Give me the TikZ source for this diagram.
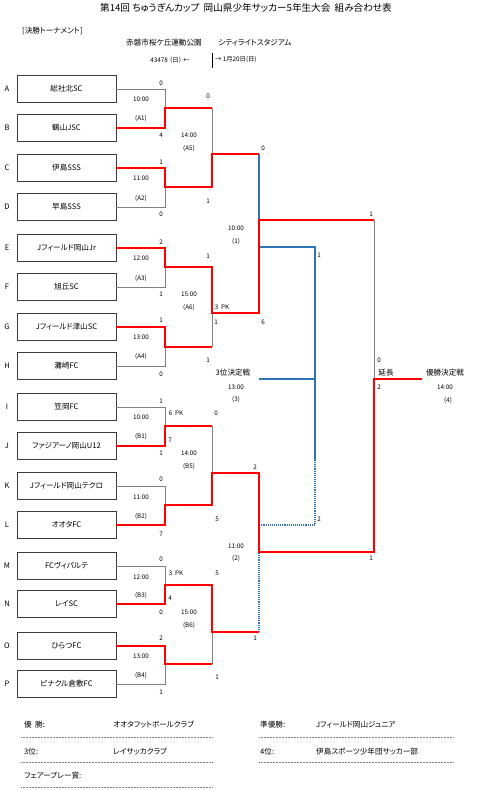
\documentclass[tikz,border=0pt]{standalone}
\usepackage{fontspec}
\setmainfont{Noto Sans CJK JP}[RawFeature=+palt]
\definecolor{winred}{RGB}{255,0,0}
\definecolor{thirdblue}{RGB}{46,117,182}
\definecolor{losegray}{RGB}{128,128,128}
\definecolor{boxgray}{RGB}{60,60,60}
\begin{document}
\begin{tikzpicture}[x=1pt,y=-1pt,
  team/.style={draw=boxgray, line width=0.8pt, minimum width=99pt, minimum height=27pt, inner sep=0pt, font=\fontsize{7.6}{9}\selectfont},
  teamletter/.style={font=\fontsize{7.5}{9}\selectfont, inner sep=0pt},
  sm/.style={font=\fontsize{6.3}{7}\selectfont, inner sep=0pt},
  md/.style={font=\fontsize{7.6}{9}\selectfont, inner sep=0pt},
  ttl/.style={font=\fontsize{9.6}{11}\selectfont, inner sep=0pt},
  lose/.style={draw=losegray, line width=0.9pt},
  win/.style={draw=winred, line width=1.4pt},
  third/.style={draw=thirdblue, line width=1.1pt},
  thirddot/.style={draw=thirdblue, line width=1.1pt, densely dotted},
  rule/.style={draw=gray, line width=0.5pt, densely dotted},
  sepline/.style={draw=black, line width=0.6pt}
]
\path[use as bounding box] (0,0) rectangle (488,791);

% header
\node[ttl] (title) at (246,8) {第14回 ちゅうぎんカップ\ \ 岡山県少年サッカー5年生大会\ \ 組み合わせ表};
\node[md, anchor=west] (sec) at (22,31) {[決勝トーナメント]};
\node[md] (venue1) at (164,43) {赤磐市桜ケ丘運動公園};
\node[md] (venue2) at (255,43) {シティライトスタジアム};
\node[sm] (date1) at (170,60) {43478 （日） ←};
\node[sm, anchor=west] (date2) at (215,60) {→ 1月20日(日)};
\coordinate (sepT) at (212,53);
\coordinate (sepB) at (212,68);
\draw[sepline] (sepT) -- (sepB);

% teams
\foreach \n/\y/\t in {A/89/総社北SC, B/128/鶴山JSC, C/168/伊島SSS, D/207/早島SSS,
  E/248/Jフィールド岡山Jr, F/287/旭丘SC, G/327/Jフィールド津山SC, H/366/灘崎FC,
  I/407/笠岡FC, J/446/ファジアーノ岡山U12, K/486/Jフィールド岡山テクロ, L/525/オオタFC,
  M/566/FCヴィパルテ, N/604/レイSC, O/646/ひらつFC, P/684/ピナクル倉敷FC}{
  \node[team] (\n) at (66.5,\y) {\t};
  \node[teamletter] (let\n) at (7,\y) {\n};
}

% junction coordinates
\coordinate (a1t) at (165,89);  \coordinate (a1b) at (165,128); \coordinate (a1o) at (165,108);
\coordinate (a2t) at (165,168); \coordinate (a2b) at (165,207); \coordinate (a2o) at (165,187);
\coordinate (a3t) at (165,248); \coordinate (a3b) at (165,287); \coordinate (a3o) at (165,267);
\coordinate (a4t) at (165,327); \coordinate (a4b) at (165,366); \coordinate (a4o) at (165,347);
\coordinate (b1t) at (165,407); \coordinate (b1b) at (165,446); \coordinate (b1o) at (165,426);
\coordinate (b2t) at (165,486); \coordinate (b2b) at (165,525); \coordinate (b2o) at (165,505);
\coordinate (b3t) at (165,566); \coordinate (b3b) at (165,604); \coordinate (b3o) at (165,585);
\coordinate (b4t) at (165,646); \coordinate (b4b) at (165,684); \coordinate (b4o) at (165,664);
\coordinate (a5t) at (212,108); \coordinate (a5b) at (212,187); \coordinate (a5o) at (212,154);
\coordinate (a6t) at (212,267); \coordinate (a6b) at (212,347); \coordinate (a6o) at (212,313);
\coordinate (b5t) at (212,426); \coordinate (b5b) at (212,505); \coordinate (b5o) at (212,473);
\coordinate (b6t) at (212,585); \coordinate (b6b) at (212,664); \coordinate (b6o) at (212,632);
\coordinate (s1t) at (259,154); \coordinate (s1b) at (259,313); \coordinate (s1o) at (259,220);
\coordinate (s2t) at (259,473); \coordinate (s2b) at (259,632); \coordinate (s2o) at (259,552);
\coordinate (s1l) at (259,247); \coordinate (tq) at (315,247); \coordinate (tm) at (315,460);
\coordinate (tb) at (315,525); \coordinate (s2l) at (259,525);
\coordinate (tw) at (315,379); \coordinate (tl) at (259,379);
\coordinate (ft) at (374,220); \coordinate (fb) at (374,552); \coordinate (fo) at (374,379);
\coordinate (champ) at (422,379);

% losing lines
\draw[lose] (A.east) -- (a1t) -- (a1o);
\draw[lose] (D.east) -- (a2b) -- (a2o);
\draw[lose] (F.east) -- (a3b) -- (a3o);
\draw[lose] (H.east) -- (a4b) -- (a4o);
\draw[lose] (I.east) -- (b1t) -- (b1o);
\draw[lose] (K.east) -- (b2t) -- (b2o);
\draw[lose] (M.east) -- (b3t) -- (b3o);
\draw[lose] (P.east) -- (b4b) -- (b4o);
\draw[lose] (a5t) -- (a5o);
\draw[lose] (a6b) -- (a6o);
\draw[lose] (b5t) -- (b5o);
\draw[lose] (b6b) -- (b6o);
\draw[lose] (ft) -- (fo);

% third place lines
\draw[third] (s1t) -- (s1l) -- (tq) -- (tm);
\draw[thirddot] (tm) -- (tb) -- (s2l) -- (s2b);
\draw[third] (tw) -- (tl);

% winning lines
\draw[win] (B.east) -- (a1b) -- (a1o) -- (a5t);
\draw[win] (C.east) -- (a2t) -- (a2o) -- (a5b) -- (a5o) -- (s1t);
\draw[win] (E.east) -- (a3t) -- (a3o) -- (a6t) -- (a6o) -- (s1b) -- (s1o) -- (ft);
\draw[win] (G.east) -- (a4t) -- (a4o) -- (a6b);
\draw[win] (J.east) -- (b1b) -- (b1o) -- (b5t);
\draw[win] (L.east) -- (b2b) -- (b2o) -- (b5b) -- (b5o) -- (s2t) -- (s2o) -- (fb) -- (fo) -- (champ);
\draw[win] (N.east) -- (b3b) -- (b3o) -- (b6t) -- (b6o) -- (s2b);
\draw[win] (O.east) -- (b4t) -- (b4o) -- (b6b);

% small labels (scores, times, match ids)
\foreach \n/\x/\y/\t in {
  r1/161/83/0, r2/141/99/10:00, r3/141/119/(A1), r4/161/135/4,
  r5/161/162/1, r6/141/178/11:00, r7/141/199/(A2), r8/161/214/0,
  r9/161/242/2, r10/141/258/12:00, r11/141/279/(A3), r12/161/294/1,
  r13/161/320/1, r14/141/337/13:00, r15/141/357/(A4), r16/161/374/0,
  r17/161/401/1, r18/141/417/10:00, r19/141/437/(B1), r20/161/453/1, r21/176/413/6\ \ PK, r22/170/440/7,
  r23/161/479/0, r24/141/497/11:00, r25/141/517/(B2), r26/161/534/7,
  r27/161/559/0, r28/141/577/12:00, r29/141/596/(B3), r30/161/612/0, r31/176/573/3\ \ PK, r32/170/598/4,
  r33/161/638/2, r34/141/656/13:00, r35/141/676/(B4), r36/161/692/1,
  q1/208/96/0, q2/189/135/14:00, q3/189/149/(A5), q4/208/201/1,
  q5/208/256/1, q6/189/294/15:00, q7/189/308/(A6), q8/222/307/3\ \ PK, q9/216/322/1, q10/208/360/1,
  q11/216/413/0, q12/189/453/14:00, q13/189/467/(B5), q14/217/519/5,
  q15/217/573/5, q16/189/612/15:00, q17/189/626/(B6), q18/217/677/1,
  s1/263/148/0, s2/236/228/10:00, s3/236/242/(1), s4/263/322/6,
  s5/255/467/2, s6/236/546/11:00, s7/236/559/(2), s8/255/638/1,
  s9/236/387/13:00, s10/236/400/(3), s11/319/255/1, s12/319/519/2,
  f1/371/214/1, f2/379/360/0, f3/379/387/2, f4/371/558/1, f5/445/387/14:00, f6/448/401/(4)}{
  \node[sm] (\n) at (\x,\y) {\t};
}
\node[md] (thirdttl) at (233,373) {3位決定戦};
\node[md] (extra) at (386,373) {延長};
\node[md] (finalttl) at (445,373) {優勝決定戦};

% results
\node[md, anchor=west] (res1) at (24,725) {優\ \ 勝:};
\node[md, anchor=west] (res1t) at (113,725) {オオタフットボールクラブ};
\node[md, anchor=west] (res2) at (260,725) {準優勝:};
\node[md, anchor=west] (res2t) at (316,725) {Jフィールド岡山ジュニア};
\node[md, anchor=west] (res3) at (24,752) {3位:};
\node[md, anchor=west] (res3t) at (113,752) {レイサッカクラブ};
\node[md, anchor=west] (res4) at (260,752) {4位:};
\node[md, anchor=west] (res4t) at (316,752) {伊島スポーツ少年団サッカー部};
\node[md, anchor=west] (res5) at (24,776) {フェアープレー賞:};
\coordinate (u1a) at (21,737);  \coordinate (u1b) at (212,737);
\coordinate (u2a) at (259,737); \coordinate (u2b) at (454,737);
\coordinate (u3a) at (21,762);  \coordinate (u3b) at (212,762);
\coordinate (u4a) at (259,762); \coordinate (u4b) at (454,762);
\coordinate (u5a) at (21,787);  \coordinate (u5b) at (212,787);
\draw[rule] (u1a) -- (u1b);
\draw[rule] (u2a) -- (u2b);
\draw[rule] (u3a) -- (u3b);
\draw[rule] (u4a) -- (u4b);
\draw[rule] (u5a) -- (u5b);
\end{tikzpicture}
\end{document}
